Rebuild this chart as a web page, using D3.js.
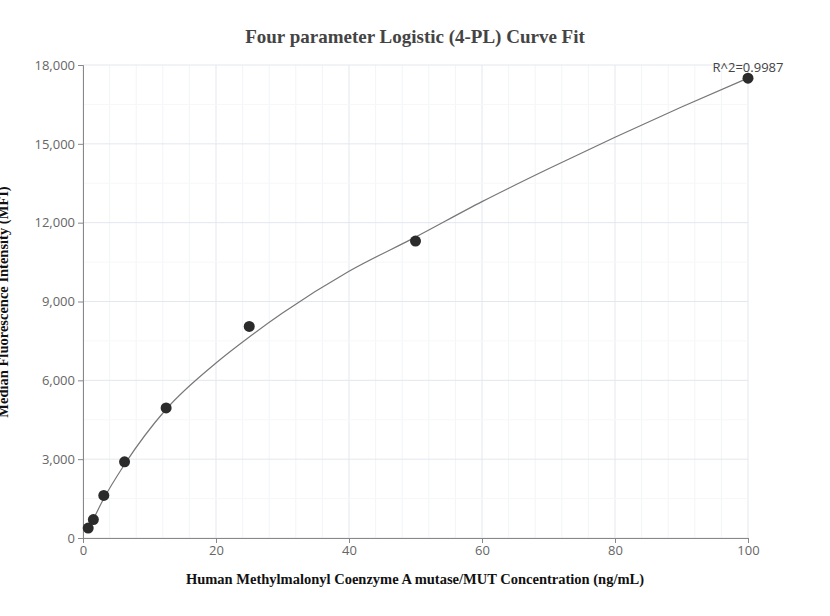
<!DOCTYPE html>
<html><head><meta charset="utf-8">
<script src="https://cdn.jsdelivr.net/npm/d3@7"></script>
<style>body{margin:0;background:#fff}</style>
</head><body>
<svg id="chart" width="830" height="616"></svg>
<script>
// measured standards
var conc = [0.78, 1.56, 3.125, 6.25, 12.5, 25, 50, 100];
var mfi = [380, 700, 1620, 2900, 4950, 8050, 11300, 17500];
// fitted curve
var fitX = [0.78, 1.56, 3.125, 6.25, 12.5, 20, 25, 30, 40, 50, 60, 70, 80, 90, 100];
var fitY = [330, 720, 1500, 2800, 4900, 6660, 7650, 8560, 10150, 11450, 12800, 14050, 15250, 16400, 17500];
var yTicks = [0, 3000, 6000, 9000, 12000, 15000, 18000];
var xTicks = [0, 20, 40, 60, 80, 100];

var svg = d3.select("#chart");
var x = d3.scaleLinear().domain([0, 100]).range([83, 748]);
var y = d3.scaleLinear().domain([0, 18000]).range([538, 65]);

// grid
svg.append("g").selectAll("line").data(d3.range(0, 101, 4)).enter().append("line")
    .attr("x1", d => x(d)).attr("x2", d => x(d)).attr("y1", 65).attr("y2", 538)
    .attr("stroke", d => d % 20 == 0 ? "#e3e7ee" : "#f3f4f7").attr("stroke-width", 1);
svg.append("g").selectAll("line").data(d3.range(0, 18001, 1500)).enter().append("line")
    .attr("x1", 83).attr("x2", 748).attr("y1", d => y(d)).attr("y2", d => y(d))
    .attr("stroke", d => d % 3000 == 0 ? "#e3e7ee" : "#f6f7f9").attr("stroke-width", 1);

var xAxis = svg.append("g").attr("transform", "translate(0,538)")
    .call(d3.axisBottom(x).tickValues(xTicks).tickSize(5));
var yAxis = svg.append("g").attr("transform", "translate(83,0)")
    .call(d3.axisLeft(y).tickValues(yTicks).tickSize(5).tickFormat(d3.format(",")));
[xAxis, yAxis].forEach(function(a) {
    a.select(".domain").attr("stroke", "#888");
    a.selectAll(".tick line").attr("stroke", "#888");
    a.selectAll("text").attr("fill", "#666").style("font-family", "Open Sans, sans-serif").style("font-size", "13px");
});

svg.append("path")
    .datum(d3.zip(fitX, fitY))
    .attr("d", d3.line().x(d => x(d[0])).y(d => y(d[1])).curve(d3.curveMonotoneX))
    .attr("fill", "none").attr("stroke", "#777").attr("stroke-width", 1.2);

svg.selectAll("circle.pt").data(d3.zip(conc, mfi)).enter().append("circle")
    .attr("cx", d => x(d[0])).attr("cy", d => y(d[1])).attr("r", 5.5)
    .attr("fill", "#2b2b2b");

svg.append("text").attr("x", 748).attr("y", 72).attr("text-anchor", "middle")
    .attr("fill", "#444").style("font-family", "Open Sans, sans-serif").style("font-size", "13px")
    .text("R^2=0.9987");

svg.append("text").attr("x", 415).attr("y", 43).attr("text-anchor", "middle")
    .attr("fill", "#444").style("font-family", "Liberation Serif, serif").style("font-size", "19px")
    .style("font-weight", "bold").text("Four parameter Logistic (4-PL) Curve Fit");
svg.append("text").attr("x", 415).attr("y", 584).attr("text-anchor", "middle")
    .attr("fill", "#111").style("font-family", "Liberation Serif, serif").style("font-size", "14.5px")
    .style("font-weight", "bold").text("Human Methylmalonyl Coenzyme A mutase/MUT Concentration (ng/mL)");
svg.append("text").attr("transform", "translate(8,302) rotate(-90)").attr("text-anchor", "middle")
    .attr("fill", "#111").style("font-family", "Liberation Serif, serif").style("font-size", "14.5px")
    .style("font-weight", "bold").text("Median Fluorescence Intensity (MFI)");
</script>
</body></html>
